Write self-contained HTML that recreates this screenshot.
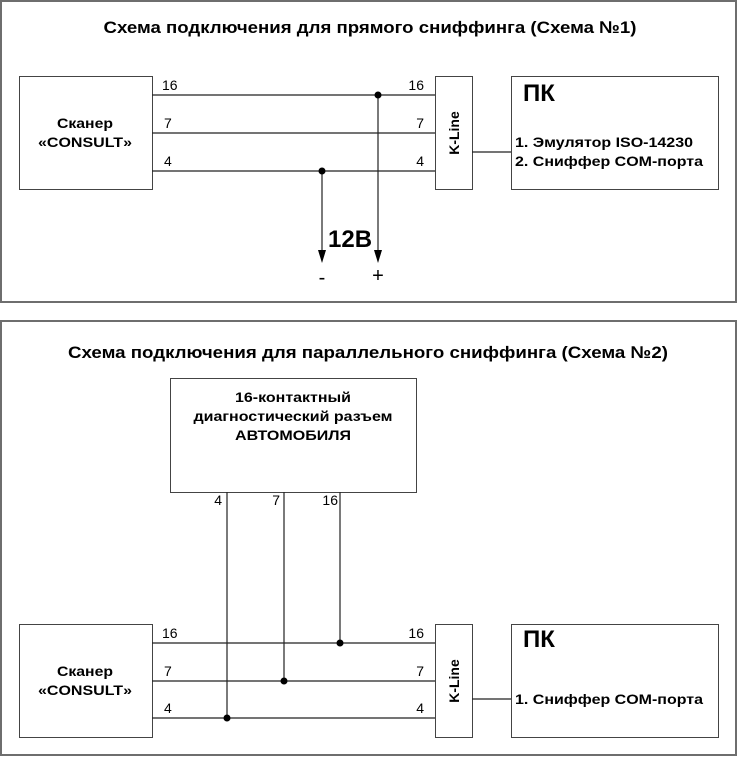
<!DOCTYPE html>
<html><head><meta charset="utf-8"><style>
html,body{margin:0;padding:0;background:#fff;}
svg{display:block;font-family:"Liberation Sans","DejaVu Sans",sans-serif;}
</style></head><body>
<svg width="738" height="757" viewBox="0 0 738 757" xmlns="http://www.w3.org/2000/svg">
<g fill="none" stroke="#6e6e6e" stroke-width="2">
<rect x="1" y="1" width="735" height="301"/>
<rect x="1" y="321" width="735" height="434"/>
</g>
<text x="370" y="33" font-size="17" font-weight="bold" text-anchor="middle" textLength="533" lengthAdjust="spacingAndGlyphs">Схема подключения для прямого сниффинга (Схема №1)</text>
<text x="368" y="358" font-size="17" font-weight="bold" text-anchor="middle" textLength="600" lengthAdjust="spacingAndGlyphs">Схема подключения для параллельного сниффинга (Схема №2)</text>

<g fill="#fff" stroke="#444" stroke-width="1">
<rect x="19.5" y="76.5" width="133" height="113"/>
<rect x="435.5" y="76.5" width="37" height="113"/>
<rect x="511.5" y="76.5" width="207" height="113"/>
<rect x="170.5" y="378.5" width="246" height="114"/>
<rect x="19.5" y="624.5" width="133" height="113"/>
<rect x="435.5" y="624.5" width="37" height="113"/>
<rect x="511.5" y="624.5" width="207" height="113"/>
</g>
<g stroke="#222" stroke-width="1.2">
<line x1="152" y1="95" x2="435" y2="95"/>
<line x1="152" y1="133" x2="435" y2="133"/>
<line x1="152" y1="171" x2="435" y2="171"/>
<line x1="472" y1="152" x2="511" y2="152"/>
<line x1="378" y1="95" x2="378" y2="252"/>
<line x1="322" y1="171" x2="322" y2="252"/>
<line x1="152" y1="643" x2="435" y2="643"/>
<line x1="152" y1="681" x2="435" y2="681"/>
<line x1="152" y1="718" x2="435" y2="718"/>
<line x1="472" y1="699" x2="511" y2="699"/>
<line x1="227" y1="492" x2="227" y2="718"/>
<line x1="284" y1="492" x2="284" y2="681"/>
<line x1="340" y1="492" x2="340" y2="643"/>
</g>
<g fill="#000">
<path d="M374,250 L382,250 L378,263 Z"/>
<path d="M318,250 L326,250 L322,263 Z"/>
<circle cx="378" cy="95" r="3.5"/><circle cx="322" cy="171" r="3.5"/>
<circle cx="340" cy="643" r="3.5"/><circle cx="284" cy="681" r="3.5"/><circle cx="227" cy="718" r="3.5"/>
</g>
<g font-size="14" fill="#000">
<text x="162" y="90">16</text><text x="164" y="128">7</text><text x="164" y="166">4</text>
<text x="424" y="90" text-anchor="end">16</text><text x="424" y="128" text-anchor="end">7</text><text x="424" y="166" text-anchor="end">4</text>
<text x="162" y="638">16</text><text x="164" y="676">7</text><text x="164" y="713">4</text>
<text x="424" y="638" text-anchor="end">16</text><text x="424" y="676" text-anchor="end">7</text><text x="424" y="713" text-anchor="end">4</text>
<text x="222" y="505" text-anchor="end">4</text><text x="280" y="505" text-anchor="end">7</text><text x="338" y="505" text-anchor="end">16</text>
</g>
<g font-size="14" font-weight="bold" fill="#000">
<text x="85" y="128" text-anchor="middle" textLength="56" lengthAdjust="spacingAndGlyphs">Сканер</text>
<text x="85" y="147" text-anchor="middle" textLength="94" lengthAdjust="spacingAndGlyphs">«CONSULT»</text>
<text x="85" y="676" text-anchor="middle" textLength="56" lengthAdjust="spacingAndGlyphs">Сканер</text>
<text x="85" y="695" text-anchor="middle" textLength="94" lengthAdjust="spacingAndGlyphs">«CONSULT»</text>
<text x="515" y="147" textLength="178" lengthAdjust="spacingAndGlyphs">1. Эмулятор ISO-14230</text>
<text x="515" y="166" textLength="188" lengthAdjust="spacingAndGlyphs">2. Сниффер COM-порта</text>
<text x="515" y="704" textLength="188" lengthAdjust="spacingAndGlyphs">1. Сниффер COM-порта</text>
<text x="293" y="402" text-anchor="middle" textLength="116" lengthAdjust="spacingAndGlyphs">16-контактный</text>
<text x="293" y="421" text-anchor="middle" textLength="199" lengthAdjust="spacingAndGlyphs">диагностический разъем</text>
<text x="293" y="440" text-anchor="middle" textLength="116" lengthAdjust="spacingAndGlyphs">АВТОМОБИЛЯ</text>
<text transform="translate(459,133) rotate(-90)" text-anchor="middle">K-Line</text>
<text transform="translate(459,681) rotate(-90)" text-anchor="middle">K-Line</text>
<text x="523" y="101" font-size="24">ПК</text>
<text x="523" y="647" font-size="24">ПК</text>
<text x="328" y="247" font-size="24">12B</text>
</g>
<g font-size="20" fill="#000">
<text x="322" y="284" text-anchor="middle">-</text>
<text x="378" y="282" text-anchor="middle">+</text>
</g>
</svg>
</body></html>
